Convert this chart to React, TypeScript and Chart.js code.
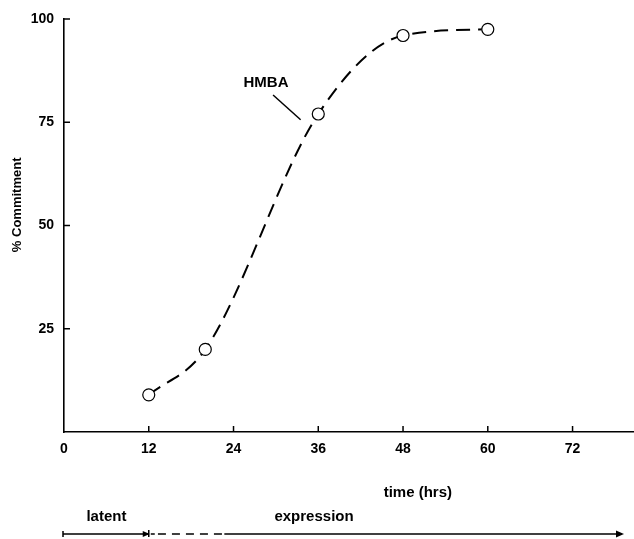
import React, { useEffect, useRef } from "react";
import { Chart, registerables } from "chart.js";

Chart.register(...registerables);

const timeHrs = [12, 20, 36, 48, 60];
const commitment = [9, 20, 77, 96, 97.5];
const xTicks = [0, 12, 24, 36, 48, 60, 72];
const yTicks = [25, 50, 75, 100];
const seriesName = "HMBA";

const FONT = '"Liberation Sans", Arial, sans-serif';

const overlay = {
  id: "overlay",
  afterDraw(chart: any) {
    const { ctx, scales } = chart;
    const xs = scales.x;
    const ys = scales.y;
    const area = chart.chartArea;
    ctx.save();
    ctx.strokeStyle = "#000";
    ctx.fillStyle = "#000";
    // inward ticks
    ctx.lineWidth = 1.5;
    xs.ticks.forEach((t: any) => {
      if (t.value === 0) return;
      const px = xs.getPixelForValue(t.value);
      ctx.beginPath();
      ctx.moveTo(px, area.bottom);
      ctx.lineTo(px, area.bottom - 6);
      ctx.stroke();
    });
    ys.ticks.forEach((t: any) => {
      if (t.value === 0) return;
      const py = ys.getPixelForValue(t.value);
      ctx.beginPath();
      ctx.moveTo(area.left, py);
      ctx.lineTo(area.left + 6, py);
      ctx.stroke();
    });
    ctx.textAlign = "center";
    ctx.textBaseline = "middle";
    // y axis title
    ctx.font = `bold 13px ${FONT}`;
    ctx.save();
    ctx.translate(17, ys.getPixelForValue(55));
    ctx.rotate(-Math.PI / 2);
    ctx.fillText("% Commitment", 0, 0);
    ctx.restore();
    // series label + leader
    ctx.font = `bold 15px ${FONT}`;
    ctx.fillText(seriesName, xs.getPixelForValue(28.6), ys.getPixelForValue(84.6));
    ctx.lineWidth = 1.5;
    ctx.beginPath();
    ctx.moveTo(xs.getPixelForValue(29.6), ys.getPixelForValue(81.6));
    ctx.lineTo(xs.getPixelForValue(33.5), ys.getPixelForValue(75.6));
    ctx.stroke();
    // x axis title & phase labels
    const bottom = area.bottom;
    ctx.fillText("time (hrs)", xs.getPixelForValue(50.1), bottom + 61);
    ctx.fillText("latent", xs.getPixelForValue(6), bottom + 85);
    ctx.fillText("expression", xs.getPixelForValue(35.4), bottom + 85);
    // phase arrow
    const ay = bottom + 102;
    const x0 = xs.getPixelForValue(0) - 1;
    const x12 = xs.getPixelForValue(12);
    const xEnd = xs.getPixelForValue(79.0);
    ctx.lineWidth = 1.5;
    ctx.beginPath();
    ctx.moveTo(x0, ay - 3);
    ctx.lineTo(x0, ay + 3);
    ctx.moveTo(x0, ay);
    ctx.lineTo(x12, ay);
    ctx.moveTo(x12, ay - 4);
    ctx.lineTo(x12, ay + 3);
    ctx.stroke();
    ctx.beginPath();
    ctx.moveTo(x12 + 1, ay);
    ctx.lineTo(x12 - 6, ay - 3);
    ctx.lineTo(x12 - 6, ay + 3);
    ctx.closePath();
    ctx.fill();
    ctx.beginPath();
    ctx.moveTo(x12 + 2, ay);
    ctx.lineTo(x12 + 6, ay);
    ctx.stroke();
    ctx.setLineDash([8, 6]);
    ctx.beginPath();
    ctx.moveTo(xs.getPixelForValue(13.3), ay);
    ctx.lineTo(xs.getPixelForValue(22.5), ay);
    ctx.stroke();
    ctx.setLineDash([]);
    ctx.beginPath();
    ctx.moveTo(xs.getPixelForValue(22.7), ay);
    ctx.lineTo(xEnd, ay);
    ctx.stroke();
    ctx.beginPath();
    ctx.moveTo(xEnd + 2, ay);
    ctx.lineTo(xEnd - 6, ay - 3.5);
    ctx.lineTo(xEnd - 6, ay + 3.5);
    ctx.closePath();
    ctx.fill();
    ctx.restore();
  },
};

export default function App() {
  const ref = useRef<HTMLCanvasElement>(null);
  useEffect(() => {
    if (!ref.current) return;
    const chart = new Chart(ref.current, {
      type: "line",
      data: {
        datasets: [
          {
            label: seriesName,
            data: timeHrs.map((t, i) => ({ x: t, y: commitment[i] })),
            borderColor: "#000",
            borderWidth: 2,
            borderDash: [14, 8],
            cubicInterpolationMode: "monotone",
            pointRadius: 6,
            pointBackgroundColor: "#fff",
            pointBorderColor: "#000",
            pointBorderWidth: 1.2,
            fill: false,
          },
        ],
      },
      options: {
        animation: false,
        responsive: false,
        maintainAspectRatio: false,
        layout: { autoPadding: false, padding: { top: 19, right: 0, left: 0, bottom: 0 } },
        plugins: { legend: { display: false }, tooltip: { enabled: false } },
        scales: {
          x: {
            type: "linear",
            min: 0,
            max: 80.7,
            afterFit: (s: any) => {
              s.height = 107;
              s.paddingRight = 0;
              s.paddingLeft = 0;
            },
            afterBuildTicks: (s: any) => {
              s.ticks = xTicks.map((v) => ({ value: v }));
            },
            ticks: {
              padding: 9,
              color: "#000",
              font: { family: FONT, size: 14, weight: "bold" },
              maxRotation: 0,
            },
            grid: { display: true, drawOnChartArea: false, drawTicks: false },
            border: { display: true, color: "#000", width: 1.6 },
          },
          y: {
            type: "linear",
            min: 0,
            max: 100,
            afterFit: (s: any) => {
              s.width = 64;
            },
            afterBuildTicks: (s: any) => {
              s.ticks = [0, ...yTicks].map((v) => ({ value: v }));
            },
            ticks: {
              padding: 10,
              color: "#000",
              font: { family: FONT, size: 14, weight: "bold" },
              callback: (v: any) => (v === 0 ? "" : String(v)),
            },
            grid: { display: true, drawOnChartArea: false, drawTicks: false },
            border: { display: true, color: "#000", width: 1.6 },
          },
        },
      },
      plugins: [overlay],
    });
    return () => chart.destroy();
  }, []);
  return (
    <div style={{ position: "fixed", left: 0, top: 0, width: 634, height: 539, background: "#fff" }}>
      <canvas ref={ref} width={634} height={539} style={{ width: 634, height: 539 }} />
    </div>
  );
}
